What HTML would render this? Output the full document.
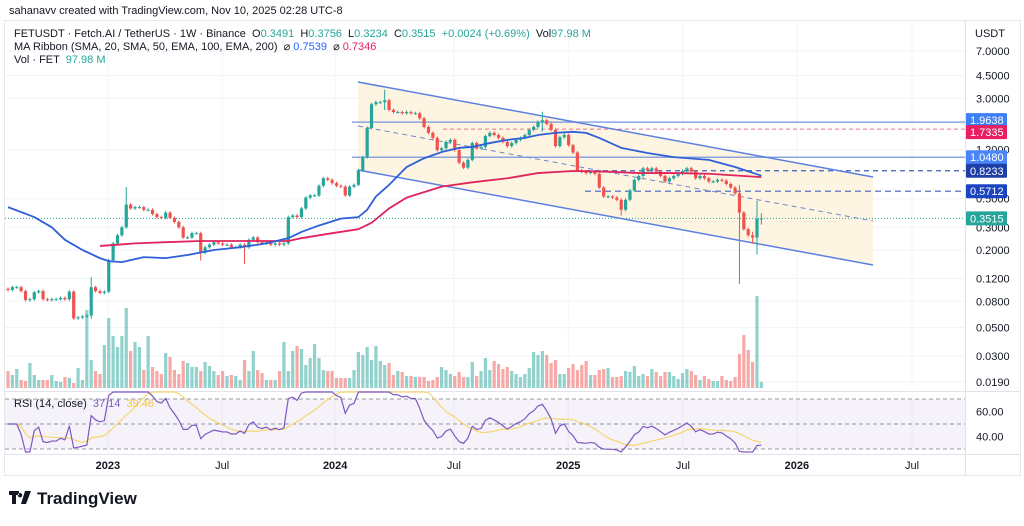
<!DOCTYPE html>
<html><head><meta charset="utf-8"><style>
body{margin:0;background:#fff;font-family:"Liberation Sans",sans-serif;}
svg text{font-family:"Liberation Sans",sans-serif;}
</style></head><body>
<svg id="c" width="1024" height="521" viewBox="0 0 1024 521" xmlns="http://www.w3.org/2000/svg">
<rect width="1024" height="521" fill="#fff"/>
<text x="9" y="14" font-size="11" fill="#131722">sahanavv created with TradingView.com, Nov 10, 2025 02:28 UTC-8</text>
<rect x="4.5" y="20.5" width="1016" height="455" fill="none" stroke="#e6e8ee"/>
<line x1="965.5" y1="20" x2="965.5" y2="475" stroke="#e0e3eb"/>
<line x1="4" y1="391.5" x2="1020" y2="391.5" stroke="#e0e3eb"/>
<line x1="4" y1="454.5" x2="1020" y2="454.5" stroke="#e0e3eb"/>
<g id="grid"></g>
<g id="rsiPane"></g>
<g id="drawings"></g>
<g id="vol"></g>
<g id="candles"></g>
<g id="mas"></g>
<g id="axis"></g>
<g id="legend" font-size="11">
<text x="14" y="37" fill="#131722">FETUSDT · Fetch.AI / TetherUS · 1W · Binance &#160;O<tspan fill="#26a69a">0.3491</tspan> &#160;H<tspan fill="#26a69a">0.3756</tspan> &#160;L<tspan fill="#26a69a">0.3234</tspan> &#160;C<tspan fill="#26a69a">0.3515</tspan> &#160;<tspan fill="#26a69a">+0.0024 (+0.69%)</tspan> &#160;Vol<tspan fill="#26a69a">97.98 M</tspan></text>
<text x="14" y="50" fill="#131722">MA Ribbon (SMA, 20, SMA, 50, EMA, 100, EMA, 200) &#160;⌀ <tspan fill="#2962ff">0.7539</tspan> &#160;⌀ <tspan fill="#e91e63">0.7346</tspan></text>
<text x="14" y="63" fill="#131722">Vol · FET &#160;<tspan fill="#26a69a">97.98 M</tspan></text>
<text x="14" y="407" fill="#131722">RSI (14, close) &#160;<tspan fill="#7e57c2">37.14</tspan> &#160;<tspan fill="#f5c542">39.46</tspan></text>
</g>
<text x="975" y="37" font-size="11" fill="#131722">USDT</text>
<g>
<path d="M9 491h10v4h-3v9h-4v-9h-3z M20 493a2.2 2.2 0 1 0 0.01 0z M25 491h6l-5 13h-5z" fill="#131722"/>
<text x="37" y="504" font-size="17" font-weight="bold" fill="#131722">TradingView</text>
</g>
</svg>
<script>
const closes=[0.098,0.103,0.103,0.096,0.082,0.083,0.094,0.096,0.083,0.082,0.083,0.083,0.085,0.083,0.095,0.059,0.060,0.061,0.062,0.103,0.096,0.093,0.095,0.167,0.225,0.26,0.30,0.45,0.42,0.43,0.43,0.41,0.41,0.38,0.36,0.355,0.39,0.355,0.33,0.30,0.25,0.25,0.27,0.27,0.19,0.21,0.22,0.23,0.225,0.22,0.22,0.21,0.21,0.22,0.21,0.24,0.25,0.23,0.225,0.23,0.22,0.225,0.22,0.225,0.36,0.37,0.36,0.42,0.51,0.53,0.53,0.63,0.72,0.70,0.66,0.63,0.62,0.53,0.62,0.64,0.83,1.05,1.77,2.7,2.8,2.8,2.9,2.44,2.35,2.35,2.3,2.35,2.3,2.3,2.1,1.8,1.62,1.48,1.19,1.23,1.38,1.43,1.19,0.95,0.87,1.0,1.35,1.23,1.26,1.53,1.62,1.56,1.48,1.38,1.28,1.35,1.43,1.48,1.56,1.71,1.80,1.97,2.03,1.90,1.71,1.28,1.5,1.56,1.30,1.14,0.83,0.81,0.79,0.81,0.78,0.61,0.52,0.52,0.51,0.49,0.41,0.49,0.58,0.70,0.75,0.86,0.83,0.86,0.81,0.75,0.68,0.72,0.75,0.78,0.82,0.86,0.81,0.72,0.75,0.72,0.68,0.68,0.70,0.69,0.65,0.61,0.55,0.39,0.29,0.26,0.25,0.3491,0.3515];
const wickIdx=[19,27,44,54,86,122,140,167,170,171,172];
const wickHi=[0.12,0.6,0.27,0.22,3.4,2.3,0.49,0.62,0.27,0.47,0.3756];
const wickLo=[0.06,0.30,0.17,0.16,2.5,1.7,0.38,0.112,0.23,0.19,0.3234];
const volumes=[272,208,304,128,112,400,208,128,128,128,208,112,96,176,160,80,320,128,1248,448,272,224,688,1120,832,656,832,1280,592,736,656,288,832,336,272,224,560,496,288,224,432,400,336,336,272,416,352,272,208,272,192,208,192,128,448,272,592,288,240,128,128,128,272,736,272,592,672,624,368,480,704,480,288,272,272,160,160,160,160,288,576,528,656,448,
672,432,368,400,208,272,256,192,192,176,176,176,112,128,176,336,288,224,192,256,176,176,416,192,272,480,288,432,384,304,336,272,224,176,224,320,576,528,592,528,400,448,224,224,320,384,288,368,432,208,208,288,304,320,176,176,192,272,256,352,192,224,192,304,256,192,256,256,192,144,240,304,272,208,128,192,144,112,112,192,128,112,176,544,848,608,416,1472,98];
const maBlueIdx=[0,6,10,13,17,21,23,26,31,36,41,47,53,59,64,67,71,76,80,82,84,87,91,95,99,103,106,110,114,118,121,125,129,132,135,140,146,152,160,166,172];
const maBlueVal=[0.43,0.36,0.30,0.24,0.20,0.173,0.164,0.161,0.176,0.173,0.183,0.20,0.21,0.225,0.247,0.276,0.31,0.35,0.36,0.41,0.52,0.64,0.88,1.03,1.15,1.24,1.26,1.35,1.43,1.48,1.56,1.62,1.65,1.62,1.48,1.24,1.13,1.05,1.0,0.88,0.7539];
const maRedIdx=[21,29,36,44,51,59,64,67,74,80,83,87,91,99,106,114,121,129,137,144,152,160,172];
const maRedVal=[0.215,0.225,0.23,0.235,0.235,0.235,0.235,0.247,0.27,0.29,0.325,0.42,0.51,0.62,0.67,0.72,0.79,0.82,0.81,0.79,0.79,0.78,0.7346];
const priceTicks=[7,4.5,3,1.2,0.5,0.3,0.2,0.12,0.08,0.05,0.03,0.019];
const priceTickLabels=["7.0000","4.5000","3.0000","1.2000","0.5000","0.3000","0.2000","0.1200","0.0800","0.0500","0.0300","0.0190"];
const timeTickWeeks=[22.8,48.9,74.7,101.8,127.9,154.1,180.1,206.4];
const timeTickLabels=["2023","Jul","2024","Jul","2025","Jul","2026","Jul"];
const levelVals=[1.9638,1.7335,1.0480,0.8233,0.5712,0.3515];
const levelLabels=["1.9638","1.7335","1.0480","0.8233","0.5712","0.3515"];
const rsiTicks=[60,40];

const NS="http://www.w3.org/2000/svg";
const xOf=i=>8+4.38*i;
const yP=p=>250-56*Math.log(p/0.2);
const yV=v=>388-v/16;
const yR=r=>424-(r-50)*1.25;
function mk(tag,attrs,parent){const e=document.createElementNS(NS,tag);for(const k in attrs)e.setAttribute(k,attrs[k]);parent.appendChild(e);return e;}
const G=id=>document.getElementById(id);

// grid
priceTicks.forEach((p,k)=>{
 const l=mk('line',{x1:5,x2:965,y1:yP(p),y2:yP(p),stroke:'#f0f3fa'},G('grid'));
 
 
 const t=mk('text',{x:976,y:yP(p)+4,'font-size':11,fill:'#131722'},G('axis'));
 t.textContent=priceTickLabels[k];
 
 
});
timeTickWeeks.forEach((w,k)=>{
 const x=xOf(w);
 const l=mk('line',{x1:x,x2:x,y1:20,y2:454,stroke:'#f3f4f8'},G('grid'));
 
 
 const t=mk('text',{x:x,y:469,'font-size':11,'text-anchor':'middle',fill:'#131722','font-weight':/\d/.test(timeTickLabels[k])?'bold':'normal'},G('axis'));
 t.textContent=timeTickLabels[k];
 
 
});

// RSI pane
const rp=G('rsiPane');
let b=mk('rect',{x:5,y:yR(70),width:960,height:yR(30)-yR(70),fill:'#7e57c2','fill-opacity':0.08},rp);


[70,50,30].forEach(v=>{const l=mk('line',{x1:5,x2:965,y1:yR(v),y2:yR(v),stroke:'#9598a1','stroke-dasharray':'4 3'},rp);
 
 });
rsiTicks.forEach(v=>{const t=mk('text',{x:976,y:yR(v)+4,'font-size':11,fill:'#131722'},rp);t.textContent=v.toFixed(2);
 
 });
// compute RSI
const opens=closes.map((c,i)=>i?closes[i-1]:0.1);
let ag=0,al=0;const rsi=[];
for(let i=0;i<closes.length;i++){
 const d=i?closes[i]-closes[i-1]:0;const g=Math.max(d,0),l=Math.max(-d,0);
 const n=Math.min(i+1,14);ag=(ag*(n-1)+g)/n;al=(al*(n-1)+l)/n;
 rsi.push(al===0?50:100-100/(1+ag/al));
}
const rsiMa=rsi.map((v,i)=>{const s=rsi.slice(Math.max(0,i-13),i+1);return s.reduce((a,b)=>a+b,0)/s.length;});
const clipR=v=>Math.max(Math.min(yR(v),452),392);
let pl=mk('polyline',{points:rsiMa.map((v,i)=>xOf(i)+','+clipR(v)).join(' '),fill:'none',stroke:'#f5d76e','stroke-width':1.2},rp);


pl=mk('polyline',{points:rsi.map((v,i)=>xOf(i)+','+clipR(v)).join(' '),fill:'none',stroke:'#7e57c2','stroke-width':1.2},rp);



// drawings: channel & levels
const dr=G('drawings');
let e=mk('polygon',{points:'358,82 873,177 873,265 358,170',fill:'#fdf2dc','fill-opacity':0.85},dr);


const lvStyle=[['352','#8aa4e0',null,1.5],['443','#e57391','4 3',1],['352','#8aa4e0',null,1.5],['585','#3f5fb8','5 4',1.2],['585','#6f86c9','6 4',1.5],['5','#26a69a','1 2',1]];
const lvBg=['#3d7ff5','#e91e63','#4a86f7','#1f3fa6','#1b44c0','#26a69a'];
levelVals.forEach((v,k)=>{
 const s=lvStyle[k];const a={x1:s[0],x2:965,y1:yP(v),y2:yP(v),stroke:s[1],'stroke-width':s[3]};if(s[2])a['stroke-dasharray']=s[2];
 const l=mk('line',a,dr);
 
 
});
[['358,82','873,177','channel-upper-line'],['358,170','873,265','channel-lower-line']].forEach(q=>{
 const [a,c]=[q[0].split(','),q[1].split(',')];
 const l=mk('line',{x1:a[0],y1:a[1],x2:c[0],y2:c[1],stroke:'#5b7fe0','stroke-width':1.5},dr);
 
 
});
e=mk('line',{x1:358,y1:126,x2:873,y2:221,stroke:'#6f86c9','stroke-width':1,'stroke-dasharray':'5 4'},dr);



// volume
volumes.forEach((v,i)=>{
 const up=closes[i]>=opens[i];
 const r=mk('rect',{x:xOf(i)-1.6,y:yV(v),width:3.2,height:388-yV(v),fill:up?'#26a69a':'#ef5350','fill-opacity':0.5},G('vol'));
 
 
});
// candles
closes.forEach((c,i)=>{
 const o=opens[i],up=c>=o,col=up?'#26a69a':'#ef5350';
 const k=wickIdx.indexOf(i);
 const hi=k>=0?wickHi[k]:Math.max(o,c),lo=k>=0?wickLo[k]:Math.min(o,c);
 const g=mk('g',{},G('candles'));
 
 
 mk('line',{x1:xOf(i),x2:xOf(i),y1:yP(hi)-1.5,y2:yP(lo)+1.5,stroke:col,'stroke-width':1},g);
 const y1=Math.min(yP(o),yP(c)),h=Math.max(Math.abs(yP(o)-yP(c)),1);
 mk('rect',{x:xOf(i)-1.6,y:y1,width:3.2,height:h,fill:col},g);
});
// moving averages
function maLine(idx,val,col,name){
 const p=mk('polyline',{points:idx.map((ix,k)=>xOf(ix)+','+yP(val[k])).join(' '),fill:'none',stroke:col,'stroke-width':1.8,'stroke-linejoin':'round'},G('mas'));
 
 
}
maLine(maRedIdx,maRedVal,'#e0245e','ma-red-line');
maLine(maBlueIdx,maBlueVal,'#2f5fd8','ma-blue-line');

// level labels on axis
levelVals.forEach((v,k)=>{
 let y=yP(v);if(k===0)y-=2;if(k===1)y+=3;
 const g=mk('g',{},G('axis'));
 
 
 mk('rect',{x:966,y:y-7,width:41,height:14,fill:lvBg[k],rx:1},g);
 const t=mk('text',{x:970,y:y+4,'font-size':11,fill:'#fff'},g);t.textContent=levelLabels[k];
});
</script>
</body></html>
